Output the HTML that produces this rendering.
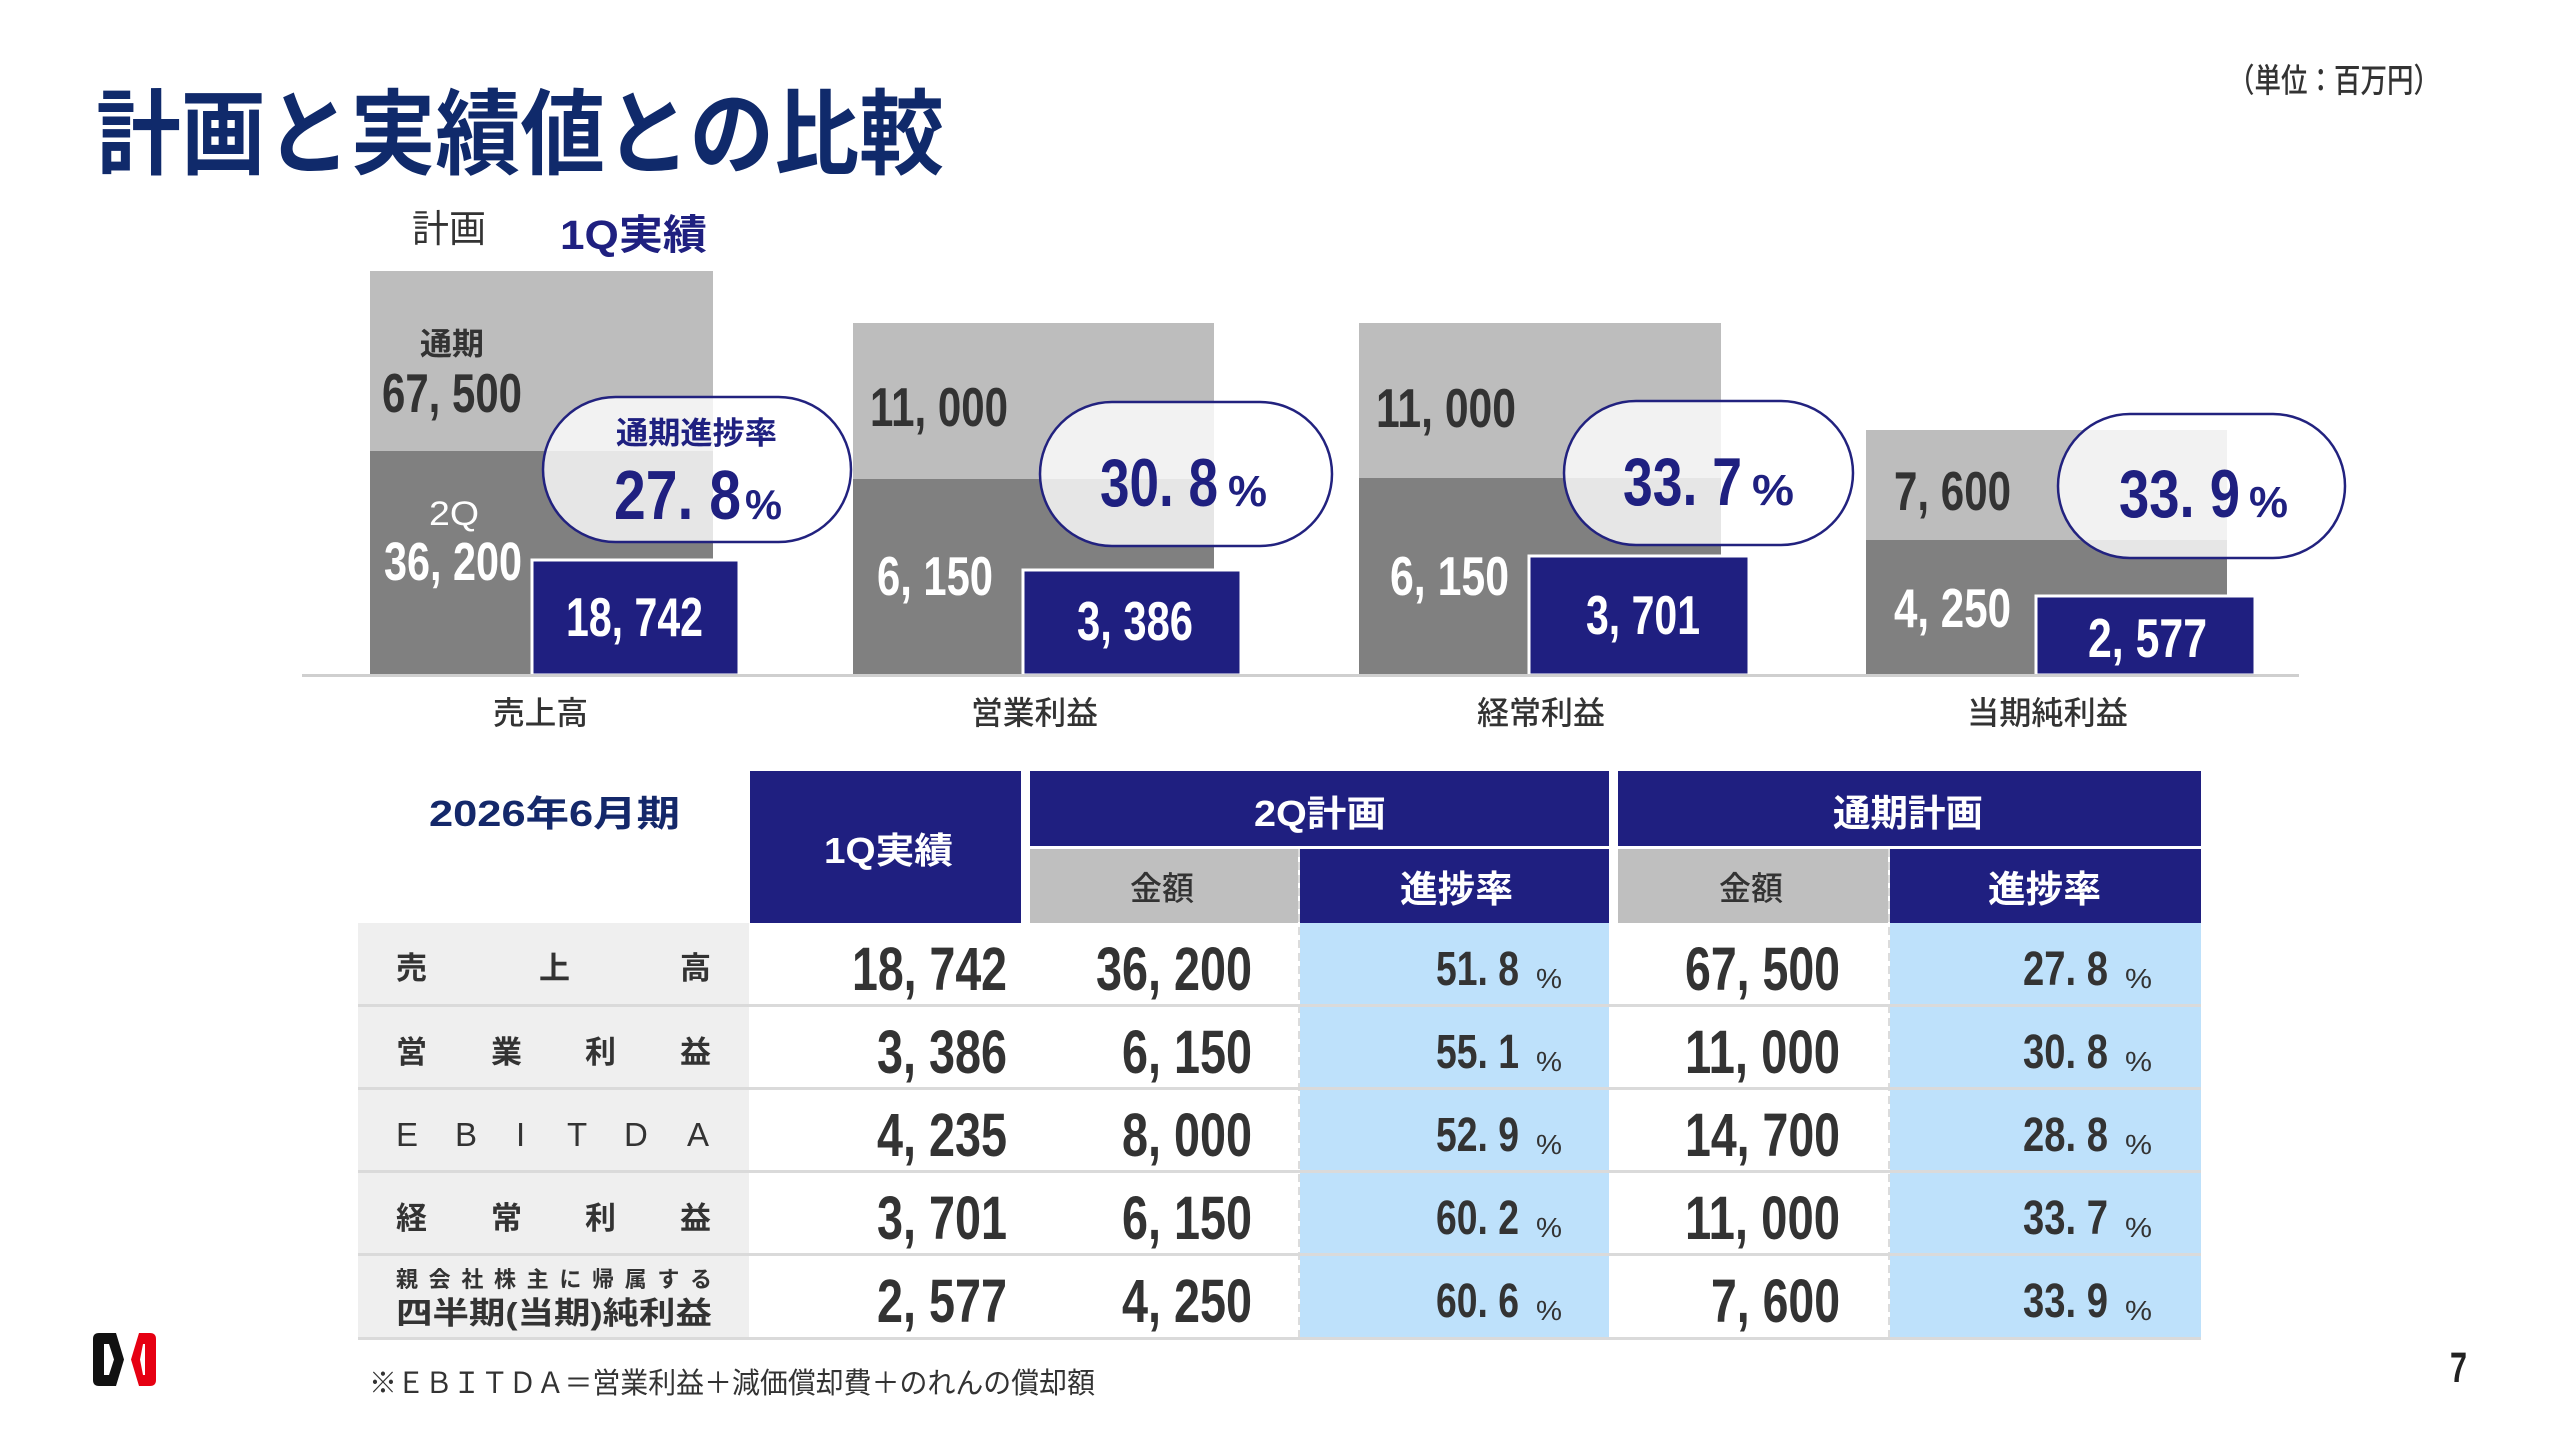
<!DOCTYPE html>
<html><head><meta charset="utf-8">
<style>
html,body{margin:0;padding:0;background:#fff;}
svg{display:block;}
.n{font-family:"Liberation Sans",sans-serif;}
.j{font-family:"Liberation Sans","Noto Sans CJK JP",sans-serif;}
</style></head>
<body>
<svg width="2560" height="1440" viewBox="0 0 2560 1440" xmlns="http://www.w3.org/2000/svg">
<rect width="2560" height="1440" fill="#fff"/>

<!-- Title -->
<text class="j" x="96" y="167" font-size="93" font-weight="bold" fill="#102a6b" textLength="848" lengthAdjust="spacingAndGlyphs">計画と実績値との比較</text>
<text class="j" x="2228" y="92" font-size="33" font-weight="500" fill="#333" textLength="212" lengthAdjust="spacingAndGlyphs">（単位：百万円）</text>

<!-- Legend -->
<text class="j" x="412" y="242" font-size="38" fill="#333" textLength="74" lengthAdjust="spacingAndGlyphs">計画</text>
<text class="j" x="560" y="249" font-size="41" font-weight="bold" fill="#1f2080" textLength="147" lengthAdjust="spacingAndGlyphs">1Q実績</text>

<!-- Bars -->
<g>
<rect x="370" y="271" width="343" height="180" fill="#bdbdbd"/>
<rect x="370" y="451" width="343" height="224" fill="#808080"/>
<rect x="853" y="323" width="361" height="156" fill="#bdbdbd"/>
<rect x="853" y="479" width="361" height="196" fill="#808080"/>
<rect x="1359" y="323" width="362" height="155" fill="#bdbdbd"/>
<rect x="1359" y="478" width="362" height="197" fill="#808080"/>
<rect x="1866" y="430" width="361" height="110" fill="#bdbdbd"/>
<rect x="1866" y="540" width="361" height="135" fill="#808080"/>

<rect x="532" y="560" width="207" height="115" fill="#1f1f80" stroke="#fff" stroke-width="3"/>
<rect x="1023" y="570" width="218" height="105" fill="#1f1f80" stroke="#fff" stroke-width="3"/>
<rect x="1529" y="556" width="220" height="119" fill="#1f1f80" stroke="#fff" stroke-width="3"/>
<rect x="2036" y="596" width="219" height="79" fill="#1f1f80" stroke="#fff" stroke-width="3"/>

<rect x="302" y="674" width="1997" height="3" fill="#cfcfcf"/>
</g>

<!-- bar texts -->
<text class="j" x="420" y="355" font-size="31" font-weight="bold" fill="#333" textLength="64" lengthAdjust="spacingAndGlyphs">通期</text>
<g class="n" font-weight="bold">
<text x="382" y="412" font-size="55" fill="#333" textLength="140" lengthAdjust="spacingAndGlyphs">67, 500</text>
<text x="384" y="580" font-size="54" fill="#fff" textLength="138" lengthAdjust="spacingAndGlyphs">36, 200</text>
<text x="566" y="636" font-size="55" fill="#fff" textLength="137" lengthAdjust="spacingAndGlyphs">18, 742</text>

<text x="870" y="426" font-size="55" fill="#333" textLength="138" lengthAdjust="spacingAndGlyphs">11, 000</text>
<text x="877" y="595" font-size="55" fill="#fff" textLength="116" lengthAdjust="spacingAndGlyphs">6, 150</text>
<text x="1077" y="640" font-size="55" fill="#fff" textLength="116" lengthAdjust="spacingAndGlyphs">3, 386</text>

<text x="1376" y="427" font-size="55" fill="#333" textLength="140" lengthAdjust="spacingAndGlyphs">11, 000</text>
<text x="1390" y="595" font-size="55" fill="#fff" textLength="119" lengthAdjust="spacingAndGlyphs">6, 150</text>
<text x="1586" y="634" font-size="55" fill="#fff" textLength="114" lengthAdjust="spacingAndGlyphs">3, 701</text>

<text x="1894" y="510" font-size="55" fill="#333" textLength="117" lengthAdjust="spacingAndGlyphs">7, 600</text>
<text x="1894" y="627" font-size="55" fill="#fff" textLength="117" lengthAdjust="spacingAndGlyphs">4, 250</text>
<text x="2088" y="657" font-size="55" fill="#fff" textLength="119" lengthAdjust="spacingAndGlyphs">2, 577</text>
</g>
<text class="j" x="429" y="525" font-size="34" fill="#fff" textLength="50" lengthAdjust="spacingAndGlyphs">2Q</text>

<!-- bubbles -->
<g fill="#fff" fill-opacity="0.8" stroke="#22227f" stroke-width="2.5">
<rect x="543" y="397" width="308" height="145" rx="72.5" ry="72.5"/>
<rect x="1040" y="402" width="292" height="144" rx="72" ry="72"/>
<rect x="1564" y="401" width="289" height="144" rx="72" ry="72"/>
<rect x="2058" y="414" width="287" height="144" rx="72" ry="72"/>
</g>
<text class="j" x="616" y="444" font-size="31" font-weight="bold" fill="#1f2080" textLength="161" lengthAdjust="spacingAndGlyphs">通期進捗率</text>
<text class="n" x="614" y="519" font-size="70" font-weight="bold" fill="#1f2080" textLength="127" lengthAdjust="spacingAndGlyphs">27. 8</text>
<text class="n" x="745" y="519" font-size="42" font-weight="bold" fill="#1f2080" textLength="37" lengthAdjust="spacingAndGlyphs">%</text>

<text class="n" x="1100" y="506" font-size="68" font-weight="bold" fill="#1f2080" textLength="118" lengthAdjust="spacingAndGlyphs">30. 8</text>
<text class="n" x="1228" y="506" font-size="44" font-weight="bold" fill="#1f2080" textLength="39" lengthAdjust="spacingAndGlyphs">%</text>

<text class="n" x="1623" y="505" font-size="68" font-weight="bold" fill="#1f2080" textLength="119" lengthAdjust="spacingAndGlyphs">33. 7</text>
<text class="n" x="1752" y="505" font-size="44" font-weight="bold" fill="#1f2080" textLength="42" lengthAdjust="spacingAndGlyphs">%</text>

<text class="n" x="2119" y="517" font-size="68" font-weight="bold" fill="#1f2080" textLength="121" lengthAdjust="spacingAndGlyphs">33. 9</text>
<text class="n" x="2249" y="517" font-size="44" font-weight="bold" fill="#1f2080" textLength="39" lengthAdjust="spacingAndGlyphs">%</text>

<!-- category labels -->
<g class="j" font-size="32" font-weight="500" fill="#333">
<text x="493" y="724" textLength="95" lengthAdjust="spacingAndGlyphs">売上高</text>
<text x="971" y="724" textLength="127" lengthAdjust="spacingAndGlyphs">営業利益</text>
<text x="1477" y="724" textLength="128" lengthAdjust="spacingAndGlyphs">経常利益</text>
<text x="1967" y="724" textLength="161" lengthAdjust="spacingAndGlyphs">当期純利益</text>
</g>

<!-- Table headers -->
<text class="j" x="429" y="826" font-size="36" font-weight="bold" fill="#14286a" textLength="251" lengthAdjust="spacingAndGlyphs">2026年6月期</text>

<rect x="750" y="771" width="271" height="152" fill="#1f1f80"/>
<text class="j" x="824" y="863" font-size="36" font-weight="bold" fill="#fff" textLength="129" lengthAdjust="spacingAndGlyphs">1Q実績</text>

<rect x="1030" y="771" width="579" height="75" fill="#1f1f80"/>
<text class="j" x="1254" y="826" font-size="36" font-weight="bold" fill="#fff" textLength="132" lengthAdjust="spacingAndGlyphs">2Q計画</text>
<rect x="1030" y="849" width="268" height="74" fill="#bfbfbf"/>
<text class="j" x="1130" y="900" font-size="33" font-weight="500" fill="#333" textLength="64" lengthAdjust="spacingAndGlyphs">金額</text>
<rect x="1300" y="849" width="309" height="74" fill="#1f1f80"/>
<text class="j" x="1400" y="902" font-size="37" font-weight="bold" fill="#fff" textLength="113" lengthAdjust="spacingAndGlyphs">進捗率</text>

<rect x="1618" y="771" width="583" height="75" fill="#1f1f80"/>
<text class="j" x="1833" y="826" font-size="37" font-weight="bold" fill="#fff" textLength="150" lengthAdjust="spacingAndGlyphs">通期計画</text>
<rect x="1618" y="849" width="270" height="74" fill="#bfbfbf"/>
<text class="j" x="1719" y="900" font-size="33" font-weight="500" fill="#333" textLength="64" lengthAdjust="spacingAndGlyphs">金額</text>
<rect x="1890" y="849" width="311" height="74" fill="#1f1f80"/>
<text class="j" x="1988" y="902" font-size="37" font-weight="bold" fill="#fff" textLength="113" lengthAdjust="spacingAndGlyphs">進捗率</text>

<!-- Table body backgrounds -->
<rect x="358" y="923" width="391" height="415" fill="#efefef"/>
<rect x="1300" y="923" width="309" height="415" fill="#bee1fb"/>
<rect x="1890" y="923" width="311" height="415" fill="#bee1fb"/>

<!-- dashed separators -->
<line x1="1299" y1="849" x2="1299" y2="1338" stroke="#dcdcdc" stroke-width="2" stroke-dasharray="8,5"/>
<line x1="1889" y1="849" x2="1889" y2="1338" stroke="#dcdcdc" stroke-width="2" stroke-dasharray="8,5"/>

<!-- row separators -->
<g fill="#dadada">
<rect x="358" y="1004" width="1843" height="3"/>
<rect x="358" y="1087" width="1843" height="3"/>
<rect x="358" y="1170" width="1843" height="3"/>
<rect x="358" y="1253" width="1843" height="3"/>
<rect x="358" y="1337" width="1843" height="3"/>
</g>

<!-- row labels -->
<g class="j" font-size="31" font-weight="bold" fill="#333">
<text x="396" y="979">売</text><text x="539" y="979">上</text><text x="680" y="979">高</text>
<text x="396" y="1063">営</text><text x="491" y="1063">業</text><text x="585" y="1063">利</text><text x="680" y="1063">益</text>
<text x="396" y="1229">経</text><text x="491" y="1229">常</text><text x="585" y="1229">利</text><text x="680" y="1229">益</text>
</g>
<g class="n" font-size="33" fill="#333">
<text x="396" y="1146">E</text><text x="455" y="1146">B</text><text x="516" y="1146">I</text><text x="567" y="1146">T</text><text x="624" y="1146">D</text><text x="687" y="1146">A</text>
</g>
<text class="j" x="396" y="1287" font-size="22" font-weight="bold" fill="#333" textLength="316" lengthAdjust="spacing">親会社株主に帰属する</text>
<text class="j" x="396" y="1324" font-size="31" font-weight="bold" fill="#333" textLength="316" lengthAdjust="spacingAndGlyphs">四半期(当期)純利益</text>

<!-- amounts -->
<g class="n" font-size="61" font-weight="bold" fill="#333">
<text x="852" y="990" textLength="155" lengthAdjust="spacingAndGlyphs">18, 742</text>
<text x="877" y="1073" textLength="130" lengthAdjust="spacingAndGlyphs">3, 386</text>
<text x="877" y="1156" textLength="130" lengthAdjust="spacingAndGlyphs">4, 235</text>
<text x="877" y="1239" textLength="130" lengthAdjust="spacingAndGlyphs">3, 701</text>
<text x="877" y="1322" textLength="130" lengthAdjust="spacingAndGlyphs">2, 577</text>

<text x="1096" y="990" textLength="156" lengthAdjust="spacingAndGlyphs">36, 200</text>
<text x="1122" y="1073" textLength="130" lengthAdjust="spacingAndGlyphs">6, 150</text>
<text x="1122" y="1156" textLength="130" lengthAdjust="spacingAndGlyphs">8, 000</text>
<text x="1122" y="1239" textLength="130" lengthAdjust="spacingAndGlyphs">6, 150</text>
<text x="1122" y="1322" textLength="130" lengthAdjust="spacingAndGlyphs">4, 250</text>

<text x="1685" y="990" textLength="155" lengthAdjust="spacingAndGlyphs">67, 500</text>
<text x="1685" y="1073" textLength="155" lengthAdjust="spacingAndGlyphs">11, 000</text>
<text x="1685" y="1156" textLength="155" lengthAdjust="spacingAndGlyphs">14, 700</text>
<text x="1685" y="1239" textLength="155" lengthAdjust="spacingAndGlyphs">11, 000</text>
<text x="1711" y="1322" textLength="129" lengthAdjust="spacingAndGlyphs">7, 600</text>
</g>

<!-- percents -->
<g class="n" font-size="48" font-weight="bold" fill="#333">
<text x="1436" y="985" textLength="83" lengthAdjust="spacingAndGlyphs">51. 8</text>
<text x="1436" y="1068" textLength="83" lengthAdjust="spacingAndGlyphs">55. 1</text>
<text x="1436" y="1151" textLength="83" lengthAdjust="spacingAndGlyphs">52. 9</text>
<text x="1436" y="1234" textLength="83" lengthAdjust="spacingAndGlyphs">60. 2</text>
<text x="1436" y="1317" textLength="83" lengthAdjust="spacingAndGlyphs">60. 6</text>

<text x="2023" y="985" textLength="85" lengthAdjust="spacingAndGlyphs">27. 8</text>
<text x="2023" y="1068" textLength="85" lengthAdjust="spacingAndGlyphs">30. 8</text>
<text x="2023" y="1151" textLength="85" lengthAdjust="spacingAndGlyphs">28. 8</text>
<text x="2023" y="1234" textLength="85" lengthAdjust="spacingAndGlyphs">33. 7</text>
<text x="2023" y="1317" textLength="85" lengthAdjust="spacingAndGlyphs">33. 9</text>
</g>
<g class="n" font-size="28" fill="#333">
<text x="1536" y="988" textLength="26" lengthAdjust="spacingAndGlyphs">%</text>
<text x="1536" y="1071" textLength="26" lengthAdjust="spacingAndGlyphs">%</text>
<text x="1536" y="1154" textLength="26" lengthAdjust="spacingAndGlyphs">%</text>
<text x="1536" y="1237" textLength="26" lengthAdjust="spacingAndGlyphs">%</text>
<text x="1536" y="1320" textLength="26" lengthAdjust="spacingAndGlyphs">%</text>
<text x="2125" y="988" textLength="27" lengthAdjust="spacingAndGlyphs">%</text>
<text x="2125" y="1071" textLength="27" lengthAdjust="spacingAndGlyphs">%</text>
<text x="2125" y="1154" textLength="27" lengthAdjust="spacingAndGlyphs">%</text>
<text x="2125" y="1237" textLength="27" lengthAdjust="spacingAndGlyphs">%</text>
<text x="2125" y="1320" textLength="27" lengthAdjust="spacingAndGlyphs">%</text>
</g>

<!-- footnote -->
<text class="j" x="369" y="1393" font-size="29" fill="#333" textLength="726" lengthAdjust="spacingAndGlyphs">※ＥＢＩＴＤＡ＝営業利益＋減価償却費＋のれんの償却額</text>

<!-- page number -->
<text class="n" x="2450" y="1382" font-size="43" font-weight="bold" fill="#222" textLength="17" lengthAdjust="spacingAndGlyphs">7</text>

<!-- logo -->
<path fill="#111" fill-rule="evenodd" d="M99,1333 L116,1333 L124,1359.5 L116,1386 L99,1386 Q93,1386 93,1380 L93,1339 Q93,1333 99,1333 Z M104,1344 L109,1344 L114,1359.5 L109,1375 L104,1375 Z"/>
<path fill="#e60012" fill-rule="evenodd" d="M150,1333 L139,1333 L131,1359.5 L139,1386 L150,1386 Q156,1386 156,1380 L156,1339 Q156,1333 150,1333 Z M145,1344 L143,1344 L140,1359.5 L143,1375 L145,1375 Z"/>
</svg>
</body></html>
